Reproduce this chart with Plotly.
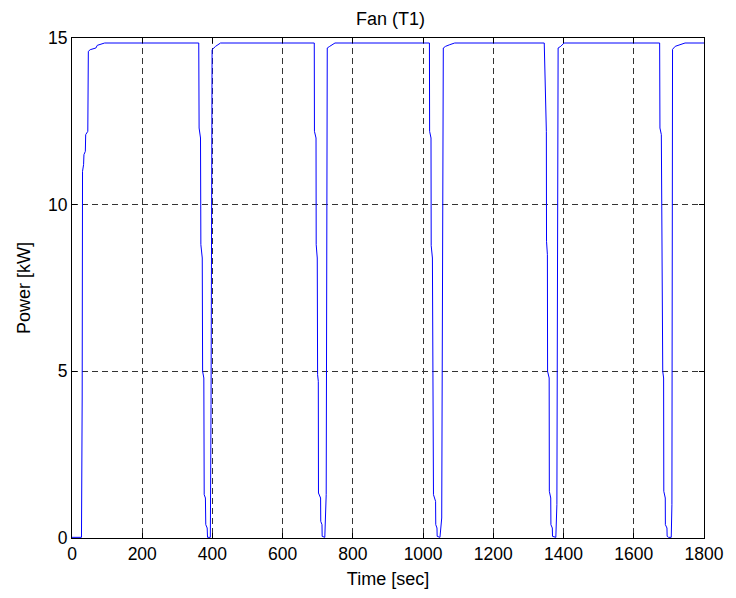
import plotly.graph_objects as go

# Fan power trace for unit T1: breakpoints of the recorded signal
time_s = [
    0, 27, 29, 30, 33, 34, 38, 39, 45, 46.5, 52, 68, 72, 78, 93,
    361, 362, 366, 367, 371, 372, 375.5, 376.5, 380, 381, 385, 386, 394, 396, 399, 409, 423,
    690, 690.5, 695, 695.5, 698.5, 699.5, 701.5, 702, 708, 708.5, 712, 712.5, 720, 724, 727, 734, 749,
    1018, 1018.5, 1022.5, 1023, 1026.5, 1027, 1029, 1029.5, 1035.5, 1036, 1039.5, 1040, 1048, 1053, 1057.5, 1064, 1076, 1090,
    1345, 1349.5, 1351, 1351.5, 1354, 1354.5, 1359, 1359.5, 1363.5, 1364, 1368, 1368.5, 1378, 1381, 1384.5, 1392, 1401.5,
    1673.7, 1674.5, 1678.5, 1680.4, 1682.2, 1682.5, 1685, 1685.5, 1689.7, 1690, 1694.5, 1695, 1699, 1706.7, 1708.6, 1710.4, 1718, 1732, 1746,
    1800,
]
power_kw = [
    0.02, 0.02, 4.2, 11.0, 11.2, 11.5, 11.6, 12.1, 12.2, 14.6, 14.65, 14.7, 14.78, 14.8, 14.85,
    14.85, 12.3, 12.0, 8.8, 8.4, 5.0, 4.8, 1.3, 1.2, 0.4, 0.3, 0.02, 0.02, 4.0, 14.65, 14.75, 14.85,
    14.85, 12.2, 12.0, 8.8, 8.4, 4.9, 4.7, 1.35, 1.2, 0.5, 0.4, 0.05, 0.02, 1.3, 14.7, 14.75, 14.85,
    14.85, 12.2, 12.0, 8.77, 8.4, 5.0, 4.8, 1.3, 1.1, 0.4, 0.3, 0.05, 0.02, 0.6, 14.7, 14.75, 14.8, 14.85,
    14.85, 12.4, 12.2, 8.9, 8.5, 5.0, 4.8, 1.4, 1.2, 0.4, 0.3, 0.05, 0.02, 1.0, 14.7, 14.75, 14.85,
    14.85, 12.3, 12.1, 8.9, 8.4, 5.0, 4.8, 1.4, 1.2, 0.4, 0.3, 0.05, 0.02, 0.02, 1.0, 14.66, 14.75, 14.8, 14.85,
    14.85,
]

x_ticks = [0, 200, 400, 600, 800, 1000, 1200, 1400, 1600, 1800]
y_ticks = [0, 5, 10, 15]

FONT = "Liberation Sans, Arial, Helvetica, sans-serif"

fig = go.Figure()
fig.add_trace(go.Scatter(
    x=time_s, y=power_kw, mode="lines",
    line=dict(color="#0000ff", width=1),
    showlegend=False,
))

axis_common = dict(
    showline=True, linecolor="black", linewidth=1, mirror="ticks",
    ticks="inside", ticklen=5, tickcolor="black",
    showgrid=True, gridcolor="#333333", gridwidth=1, griddash="6px,4px",
    zeroline=False,
    tickfont=dict(family=FONT, size=17.5, color="black"),
)

fig.update_xaxes(
    range=[0, 1800], tickvals=x_ticks,
    title=dict(text="Time [sec]", font=dict(family=FONT, size=18, color="black"), standoff=9),
    **axis_common,
)
fig.update_yaxes(
    range=[0, 15], tickvals=y_ticks,
    title=dict(text="Power [kW]", font=dict(family=FONT, size=18, color="black"), standoff=12),
    **axis_common,
)

fig.update_layout(
    width=736, height=598, autosize=False,
    margin=dict(l=72, r=27, t=38, b=58),
    paper_bgcolor="white", plot_bgcolor="white",
    title=dict(text="Fan (T1)", x=0.5307, xanchor="center", y=1 - 18.5 / 598, yanchor="middle",
               font=dict(family=FONT, size=18, color="black")),
)

fig.write_html("out.html")
